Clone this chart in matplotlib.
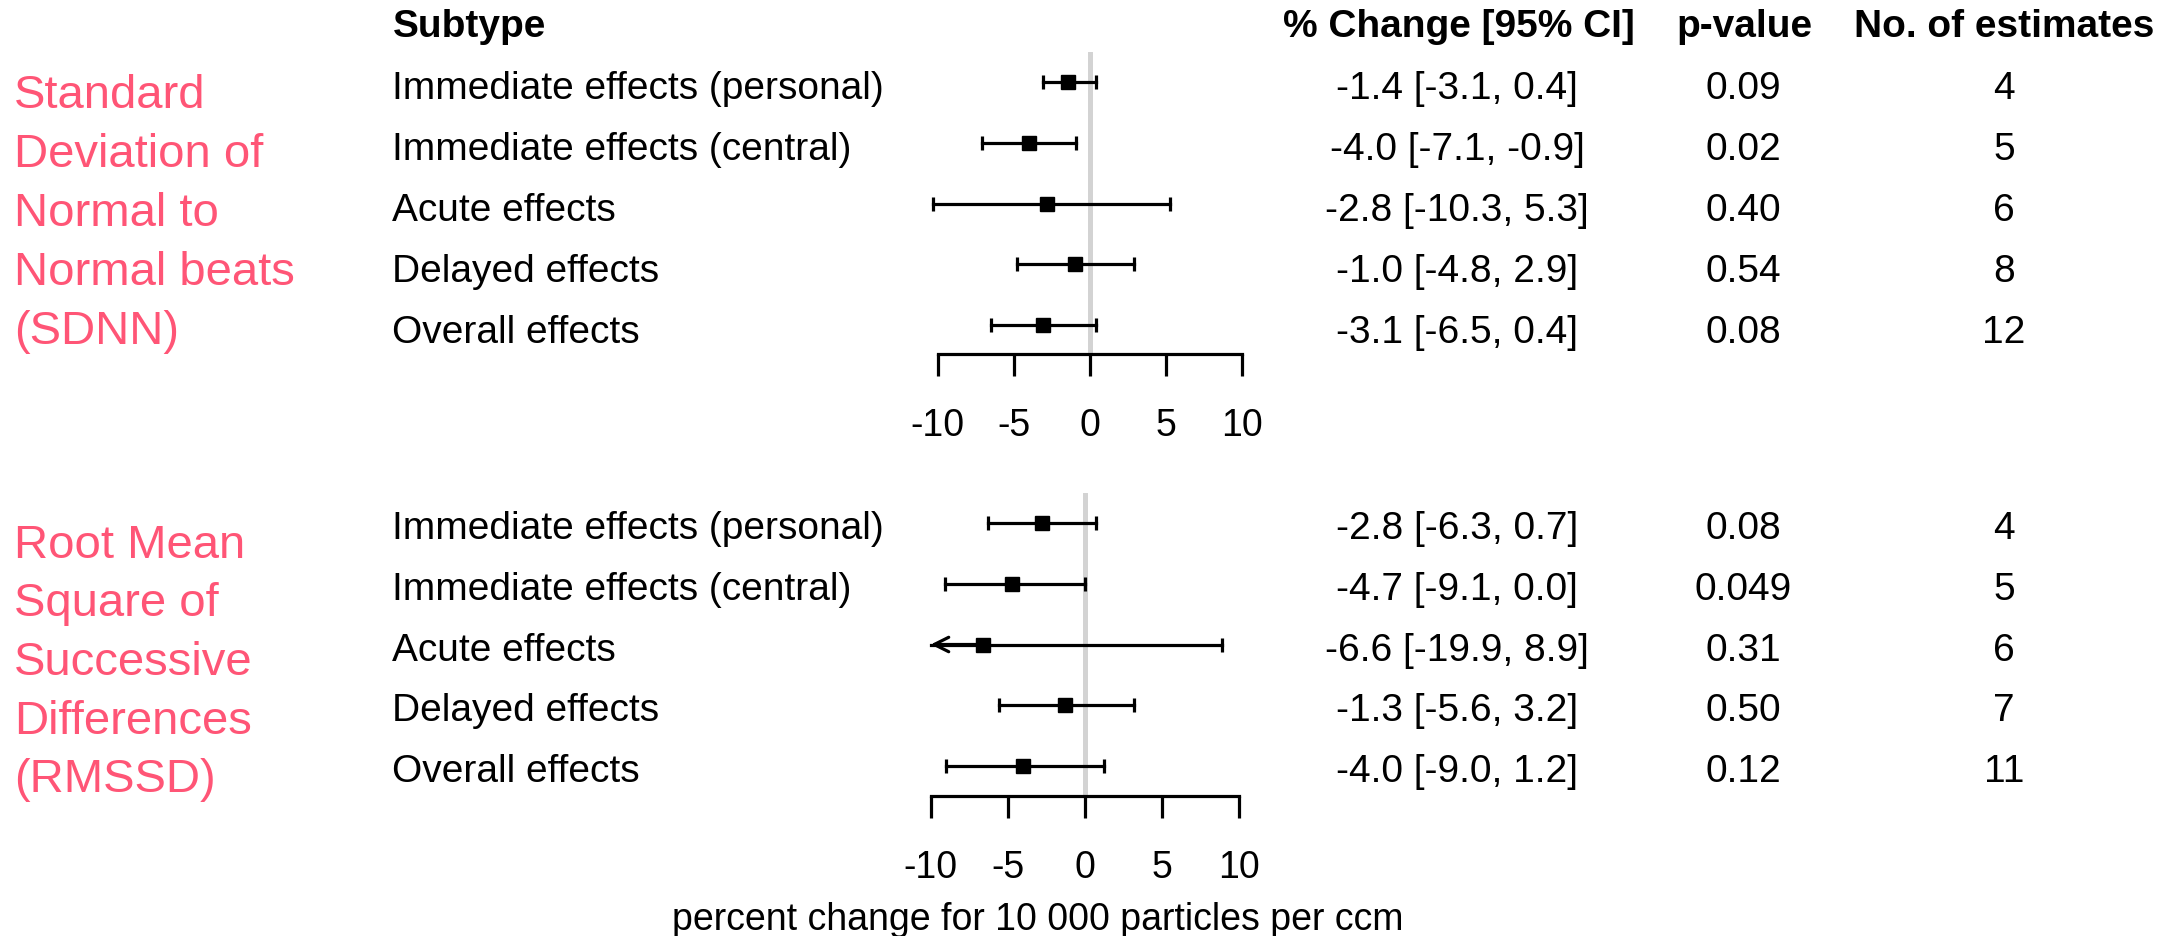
import numpy as np
import matplotlib.pyplot as plt
import matplotlib as mpl

mpl.rcParams["font.family"] = ["Liberation Sans", "DejaVu Sans"]

# data
subtypes = ["Immediate effects (personal)", "Immediate effects (central)",
            "Acute effects", "Delayed effects", "Overall effects"]

sdnn_est = [-1.4, -4.0, -2.8, -1.0, -3.1]
sdnn_lo = [-3.1, -7.1, -10.3, -4.8, -6.5]
sdnn_hi = [0.4, -0.9, 5.3, 2.9, 0.4]
sdnn_p = ["0.09", "0.02", "0.40", "0.54", "0.08"]
sdnn_n = [4, 5, 6, 8, 12]

rmssd_est = [-2.8, -4.7, -6.6, -1.3, -4.0]
rmssd_lo = [-6.3, -9.1, -19.9, -5.6, -9.0]
rmssd_hi = [0.7, 0.0, 8.9, 3.2, 1.2]
rmssd_p = ["0.08", "0.049", "0.31", "0.50", "0.12"]
rmssd_n = [4, 5, 6, 7, 11]

sdnn_label = ["Standard", "Deviation of", "Normal to", "Normal beats", "(SDNN)"]
rmssd_label = ["Root Mean", "Square of", "Successive", "Differences", "(RMSSD)"]
headers = ["Subtype", "% Change [95% CI]", "p-value", "No. of estimates"]
xticks = [-10, -5, 0, 5, 10]
xlab = "percent change for 10 000 particles per ccm"

W, H = 2175, 937
RED = "#FF5576"
FS = 28
FS_AX = 27
LW = 2.3

fig = plt.figure(figsize=(W / 100, H / 100), dpi=100)


def px(x, y):
    return x / W, 1 - y / H


def forest(rect, ylim, est, lo, hi):
    ax = fig.add_axes(rect)
    ax.set_xlim(-10, 10)
    ax.set_ylim(*ylim)
    for s in ["top", "right", "left"]:
        ax.spines[s].set_visible(False)
    ax.spines["bottom"].set_linewidth(LW)
    ax.set_yticks([])
    ax.set_xticks(xticks)
    ax.set_xticklabels([str(t) for t in xticks], fontsize=FS_AX)
    ax.tick_params(axis="x", length=16, width=LW, pad=22)
    ax.axvline(0, color="#d3d3d3", lw=3.6, zorder=0, solid_capstyle="round")
    for i in range(len(est)):
        y = i + 1
        clipped = lo[i] < -10.5
        left = -10 if clipped else lo[i]
        right = min(hi[i], 10.5)
        ax.plot([left, right], [y, y], color="black", lw=LW, clip_on=False)
        if not clipped:
            ax.plot([lo[i]], [y], marker="|", ms=10, mew=LW, color="black", clip_on=False)
        else:
            # interval runs past the axis: open arrow at the axis limit
            ax.annotate("", xy=(-10, y), xytext=(est[i], y),
                        arrowprops=dict(arrowstyle="->", lw=LW, color="black",
                                        mutation_scale=26, shrinkA=0, shrinkB=0))
        if hi[i] <= 10.5:
            ax.plot([hi[i]], [y], marker="|", ms=10, mew=LW, color="black", clip_on=False)
        ax.plot([est[i]], [y], marker="s", ms=10, color="black", clip_on=False)
    return ax


# top panel: SDNN
forest([937.7 / W, 1 - 355 / H, 304 / W, (355 - 53) / H], (5.48, 0.5),
       sdnn_est, sdnn_lo, sdnn_hi)
# bottom panel: RMSSD
forest([930.7 / W, 1 - 797 / H, 308.6 / W, (797 - 494) / H], (5.49, 0.51),
       rmssd_est, rmssd_lo, rmssd_hi)

# headers
hb = 37
fig.text(*px(393, hb), headers[0], fontsize=FS, fontweight="bold", va="baseline", ha="left")
fig.text(*px(1459, hb), headers[1], fontsize=FS, fontweight="bold", va="baseline", ha="center")
fig.text(*px(1744, hb), headers[2], fontsize=FS, fontweight="bold", va="baseline", ha="center")
fig.text(*px(2004, hb), headers[3], fontsize=FS, fontweight="bold", va="baseline", ha="center")

base_top = [99, 160, 221, 282, 343]
base_bot = [539, 600, 661, 721, 782]

for rows, est, lo, hi, pv, nn in [(base_top, sdnn_est, sdnn_lo, sdnn_hi, sdnn_p, sdnn_n),
                                  (base_bot, rmssd_est, rmssd_lo, rmssd_hi, rmssd_p, rmssd_n)]:
    for i, y in enumerate(rows):
        fig.text(*px(392, y), subtypes[i], fontsize=FS, va="baseline", ha="left")
        fig.text(*px(1457, y), f"{est[i]:.1f} [{lo[i]:.1f}, {hi[i]:.1f}]",
                 fontsize=FS, va="baseline", ha="center")
        fig.text(*px(1743, y), pv[i], fontsize=FS, va="baseline", ha="center")
        fig.text(*px(2004, y), str(nn[i]), fontsize=FS, va="baseline", ha="center")

# group labels in red, one line at a time
for i, line in enumerate(sdnn_label):
    fig.text(*px(14, 108 + 59 * i), line, fontsize=34, color=RED, va="baseline", ha="left")
for i, line in enumerate(rmssd_label):
    fig.text(*px(14, 558 + 58.5 * i), line, fontsize=34, color=RED, va="baseline", ha="left")

fig.text(*px(1038, 930), xlab, fontsize=FS_AX, va="baseline", ha="center")

fig.savefig("out.png", dpi=100)
